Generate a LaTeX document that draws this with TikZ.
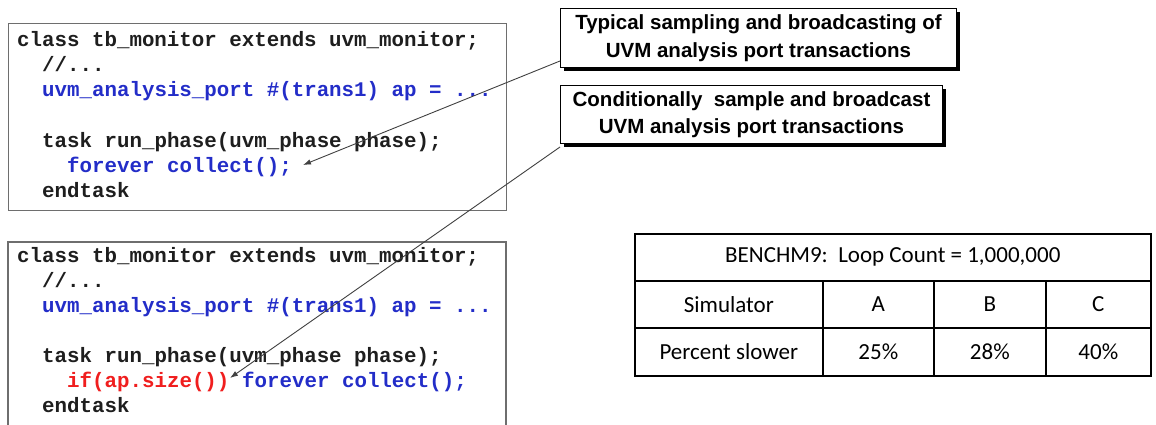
\documentclass[tikz,border=0pt]{standalone}
\usepackage{fontspec}
\setmainfont{Liberation Sans}
\setmonofont{Liberation Mono}
\newfontfamily\tablefont{Carlito}
\usetikzlibrary{shadows,arrows.meta,calc}

\definecolor{codeblack}{RGB}{30,30,30}
\definecolor{codeblue}{RGB}{35,45,200}
\definecolor{codered}{RGB}{240,30,30}
\definecolor{framegray}{RGB}{110,110,110}

\begin{document}
\begin{tikzpicture}[x=1pt,y=-1pt,
  codeline/.style={anchor=base west, inner sep=0pt, text=codeblack,
    font={\fontsize{20.8}{25}\selectfont\ttfamily\bfseries}},
  codeframe/.style={draw=framegray, line width=1.2pt},
  callout/.style={draw=black, line width=1pt, fill=white, anchor=north west,
    align=center, inner sep=0pt,
    font={\fontsize{20.5}{27.5}\selectfont\bfseries},
    drop shadow={shadow xshift=3.5pt, shadow yshift=-3.5pt, fill=black, opacity=1}},
  leader/.style={draw=black!75, line width=0.9pt, -{Latex[length=8pt,width=5.5pt]}},
  cell/.style={draw=black, line width=1.6pt, anchor=north west, inner sep=0pt,
    font={\fontsize{23}{27}\selectfont\tablefont}}]

\useasboundingbox (0,0) rectangle (1156,425);

% first monitor listing
\node[codeframe, anchor=north west, minimum width=498pt, minimum height=187pt, inner sep=0pt] (box1) at (8,23) {};
\node[codeline] (a1) at (17,47) {class tb\_monitor extends uvm\_monitor;};
\node[codeline] (a2) at (42,72) {//...};
\node[codeline, text=codeblue] (a3) at (42,97) {uvm\_analysis\_port \#(trans1) ap = ...};
\node[codeline] (a4) at (42,147) {task run\_phase(uvm\_phase phase);};
\node[codeline, text=codeblue] (a5) at (67,172) {forever collect();};
\node[codeline] (a6) at (42,197) {endtask};

% second monitor listing (frame runs past the lower edge)
\draw[codeframe] (8,430) -- (8,242) -- (506,242) -- (506,430);
\node[codeline] (b1) at (17,262) {class tb\_monitor extends uvm\_monitor;};
\node[codeline] (b2) at (42,287) {//...};
\node[codeline, text=codeblue] (b3) at (42,312) {uvm\_analysis\_port \#(trans1) ap = ...};
\node[codeline] (b4) at (42,362) {task run\_phase(uvm\_phase phase);};
\node[codeline, text=codered] (b5) at (67,387) {if(ap.size())};
\node[codeline, text=codeblue] (b6) at (242,387) {forever collect();};
\node[codeline] (b7) at (42,412) {endtask};

% callouts
\node[callout, minimum width=396pt, minimum height=59pt] (co1) at (560,8)
  {Typical sampling and broadcasting of\\UVM analysis port transactions};
\node[callout, minimum width=382pt, minimum height=58pt] (co2) at (560,85)
  {Conditionally\ \ sample and broadcast\\UVM analysis port transactions};

\coordinate (t1) at (303,165);
\coordinate (t2) at (230,378);
\draw[leader] ([yshift=7pt]co1.south west) -- (t1);
\draw[leader] ([yshift=-3pt]co2.south west) -- (t2);

% benchmark table
\node[cell, minimum width=516pt, minimum height=47pt] (th) at (634,233) {BENCHM9:\ \ Loop Count = 1,000,000};
\node[cell, minimum width=188pt, minimum height=47pt] (r1c1) at (634,280) {Simulator};
\node[cell, minimum width=111pt, minimum height=47pt] (r1c2) at (822,280) {A};
\node[cell, minimum width=112pt, minimum height=47pt] (r1c3) at (933,280) {B};
\node[cell, minimum width=105pt, minimum height=47pt] (r1c4) at (1045,280) {C};
\node[cell, minimum width=188pt, minimum height=48pt] (r2c1) at (634,327) {Percent slower};
\node[cell, minimum width=111pt, minimum height=48pt] (r2c2) at (822,327) {25\%};
\node[cell, minimum width=112pt, minimum height=48pt] (r2c3) at (933,327) {28\%};
\node[cell, minimum width=105pt, minimum height=48pt] (r2c4) at (1045,327) {40\%};
\end{tikzpicture}
\end{document}
